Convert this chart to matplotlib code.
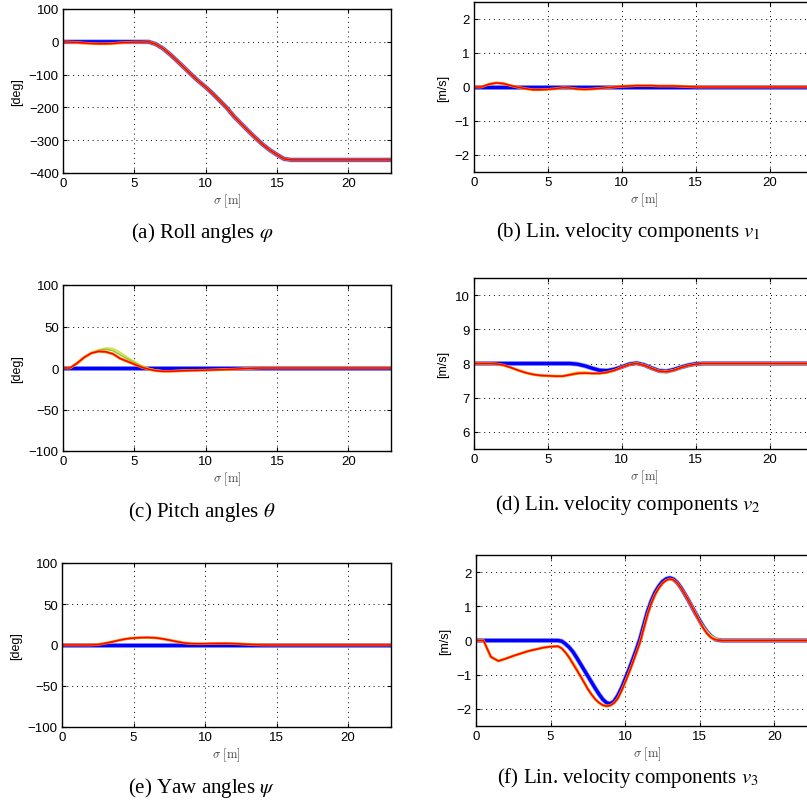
import numpy as np
import matplotlib
matplotlib.use("Agg")
import matplotlib.pyplot as plt

plt.rcParams['font.family'] = ['Liberation Sans', 'DejaVu Sans']

# sample positions along the path [m]
sigma = [0, 0.5, 1, 1.5, 2, 2.5, 3, 3.5, 4, 4.5, 5, 5.5, 6, 6.5, 7, 7.5, 8, 8.5,
         9, 9.5, 10, 10.5, 11, 11.5, 12, 12.5, 13, 13.5, 14, 14.5, 15, 15.5,
         16, 16.5, 17, 23]

# finer sampling for the v3 panel
sigma_f = [0, 0.5, 1, 1.5, 2, 2.5, 3, 3.5, 4, 4.5, 5,
           5.5, 5.75, 6, 6.25, 6.5, 6.75, 7, 7.25, 7.5, 7.75, 8, 8.25, 8.5, 8.75,
           9, 9.25, 9.5, 9.75, 10, 10.25, 10.5, 10.75, 11, 11.25, 11.5, 11.75,
           12, 12.25, 12.5, 12.75, 13, 13.25, 13.5, 13.75, 14, 14.25, 14.5, 14.75,
           15, 15.25, 15.5, 15.75, 16, 16.25, 16.5, 17, 23]

# (a) roll angle [deg]
roll_ref = [0, 0, 0, 0, 0, 0, 0, 0, 0, 0, 0, 0, 0, -7, -20, -38, -58, -79,
            -100, -120, -138, -158, -180, -202, -228, -250, -272, -293, -313, -330, -344, -357,
            -360, -360, -360, -360]
roll_run = [0, -1, -2, -4, -5, -6, -6, -5, -3, -2, -1, -1, 0, -7, -20, -38, -58, -79,
            -100, -120, -138, -158, -180, -202, -228, -250, -272, -293, -313, -330, -344, -357,
            -360, -360, -360, -360]

# (b) v1 [m/s]
v1_ref = [0] * 36
v1_run = [0, 0, 0.08, 0.12, 0.10, 0.04, -0.01, -0.05, -0.08, -0.08, -0.07, -0.05, -0.02, -0.03,
          -0.06, -0.07, -0.06, -0.04, -0.02, 0, 0.02, 0.03, 0.04, 0.04, 0.04, 0.03, 0.03, 0.03,
          0.02, 0.01, 0, 0, 0, 0, 0, 0]

# (c) pitch angle [deg]
pitch_ref = [0] * 36
pitch_run = [0, 0, 6, 13, 18, 20, 19.5, 17, 11.5, 8, 4.5, 1, -1.5, -3.2, -4, -4, -3.6, -3.2,
             -3, -2.8, -2.6, -2.3, -2, -1.7, -1.4, -1, -0.5, -0.2, 0, 0, 0, 0, 0, 0, 0, 0]
pitch_alt1 = [0, 0, 5, 12, 18, 22, 24, 23.5, 19, 13, 8, 3, -0.5, -2.5, -3.5, -3.5, -3.2, -3,
              -3, -2.9, -2.7, -2.4, -2.1, -1.8, -1.5, -1.1, -0.6, -0.3, 0, 0, 0, 0, 0, 0, 0, 0]
pitch_alt2 = [0, 0, 5.5, 12.5, 18, 21.5, 22.5, 21, 16, 11, 6.5, 2, -1, -2.8, -3.7, -3.8, -3.4, -3.1,
              -3, -2.8, -2.6, -2.3, -2, -1.7, -1.4, -1, -0.5, -0.2, 0, 0, 0, 0, 0, 0, 0, 0]

# (d) v2 [m/s]
v2_ref = [8.0] * 14 + [7.98, 7.93, 7.86, 7.80, 7.79, 7.83, 7.90, 7.98, 8.01, 7.96, 7.87, 7.79,
                       7.77, 7.82, 7.89, 7.95, 7.99, 8.0, 8.0, 8.0, 8.0, 8.0]
v2_run = [8.0, 8.0, 8.0, 7.99, 7.95, 7.88, 7.80, 7.73, 7.68, 7.65, 7.64, 7.63, 7.63, 7.67, 7.71,
          7.72, 7.71, 7.71, 7.74, 7.80, 7.89, 7.97, 8.0, 7.95, 7.86, 7.78, 7.76, 7.80, 7.88, 7.94,
          7.98, 8.0, 8.0, 8.0, 8.0, 8.0]
v2_alt = [8.0, 8.0, 8.0, 7.99, 7.95, 7.88, 7.80, 7.73, 7.68, 7.65, 7.64, 7.62, 7.64, 7.70, 7.75,
          7.75, 7.73, 7.72, 7.74, 7.80, 7.89, 7.97, 8.01, 7.96, 7.87, 7.79, 7.77, 7.81, 7.88, 7.94,
          7.98, 7.99, 7.99, 7.99, 7.99, 7.99]

# (e) yaw angle [deg]
yaw_ref = [0] * 36
yaw_run = [0, 0, 0, 0, 0, 0.5, 2, 3.8, 5.8, 7.5, 8.5, 9, 9.1, 8.8, 7.6, 6, 4.2, 2.6,
           1.7, 1.5, 1.6, 1.8, 1.9, 1.9, 1.7, 1.3, 0.8, 0.3, 0.1, 0, 0, 0, 0, 0, 0, 0]

# (f) v3 [m/s], on sigma_f
v3_ref = [0] * 11 + [0, -0.02, -0.1, -0.2, -0.33, -0.5, -0.68, -0.86, -1.04, -1.22, -1.4,
                     -1.57, -1.72, -1.82, -1.85, -1.78, -1.62, -1.4, -1.13, -0.86, -0.57,
                     -0.27, 0.05, 0.45, 0.84, 1.15, 1.4, 1.58, 1.72, 1.8, 1.83, 1.79, 1.69,
                     1.54, 1.36, 1.17, 0.97, 0.77, 0.58, 0.4, 0.25, 0.13, 0.05, 0.01, 0] + [0, 0]
v3_run = [0, 0, -0.48, -0.6, -0.53, -0.45, -0.38, -0.31, -0.26, -0.21, -0.18,
          -0.17, -0.23, -0.35, -0.5, -0.68, -0.86, -1.04, -1.23, -1.42, -1.58, -1.72,
          -1.82, -1.89, -1.92, -1.9, -1.83, -1.7, -1.48, -1.22, -0.95, -0.66, -0.36,
          -0.05, 0.36, 0.76, 1.08, 1.34, 1.53, 1.67, 1.76, 1.8, 1.77, 1.68, 1.53, 1.36,
          1.17, 0.97, 0.76, 0.55, 0.36, 0.2, 0.09, 0.03, 0.01, 0, 0, 0]
v3_alt = [0, 0, -0.47, -0.59, -0.53, -0.45, -0.38, -0.31, -0.26, -0.21, -0.18,
          -0.17, -0.22, -0.33, -0.45, -0.62, -0.8, -0.99, -1.19, -1.4, -1.57, -1.71,
          -1.81, -1.88, -1.91, -1.9, -1.83, -1.7, -1.48, -1.22, -0.95, -0.66, -0.36,
          -0.05, 0.36, 0.76, 1.08, 1.34, 1.53, 1.67, 1.76, 1.8, 1.77, 1.68, 1.53, 1.36,
          1.17, 0.98, 0.78, 0.58, 0.42, 0.27, 0.15, 0.08, 0.03, 0.01, 0, 0]

panels = [
    # x, position (px: left, top, right, bottom), ylim, yticks, ylabel, ref, alts, run, caption, caption xy (px)
    (sigma, (63, 10, 391, 174), (-400, 100), [-400, -300, -200, -100, 0, 100], '[deg]',
     roll_ref, [], roll_run, r'(a) Roll angles $\varphi$', (202, 233)),
    (sigma, (474, 3, 814, 173), (-2.5, 2.5), [-2, -1, 0, 1, 2], '[m/s]',
     v1_ref, [], v1_run, r'(b) Lin. velocity components $v_1$', (628, 232)),
    (sigma, (63, 286, 391, 452), (-100, 100), [-100, -50, 0, 50, 100], '[deg]',
     pitch_ref, [pitch_alt1, pitch_alt2], pitch_run, r'(c) Pitch angles $\theta$', (202, 512)),
    (sigma, (474, 279, 814, 450), (5.5, 10.5), [6, 7, 8, 9, 10], '[m/s]',
     v2_ref, [v2_alt], v2_run, r'(d) Lin. velocity components $v_2$', (628, 505)),
    (sigma, (62, 564, 391, 728), (-100, 100), [-100, -50, 0, 50, 100], '[deg]',
     yaw_ref, [], yaw_run, r'(e) Yaw angles $\psi$', (202, 788)),
    (sigma_f, (476, 556, 819, 727), (-2.5, 2.5), [-2, -1, 0, 1, 2], '[m/s]',
     v3_ref, [v3_alt], v3_run, r'(f) Lin. velocity components $v_3$', (628, 778)),
]

W, H = 807, 804
fig = plt.figure(figsize=(W / 100, H / 100), dpi=100)
alt_colors = ['#d8e040', '#90c840']

for x, (l, t, r, b), ylim, yticks, ylab, ref, alts, run, cap, (cx, cy) in panels:
    ax = fig.add_axes([l / W, 1 - b / H, (r - l) / W, (b - t) / H])
    ax.plot(x, ref, color='#9090ff', lw=3.4, solid_joinstyle='round')
    ax.plot(x, ref, color='#0000ff', lw=2.4, solid_joinstyle='round')
    for k, a in enumerate(alts):
        ax.plot(x, a, color=alt_colors[k % 2], lw=1.2)
    ax.plot(x, run, color='#ff9000', lw=2.0, solid_joinstyle='round')
    ax.plot(x, run, color='#ff0000', lw=1.1, solid_joinstyle='round')
    ax.set_xlim(0, 23)
    ax.set_ylim(*ylim)
    ax.set_xticks([0, 5, 10, 15, 20])
    ax.set_yticks(yticks)
    ax.grid(True, color='black', linestyle=(0, (1, 4)), linewidth=0.7)
    ax.tick_params(direction='in', top=True, right=True, length=3, labelsize=9.5, pad=3)
    for s in ax.spines.values():
        s.set_linewidth(1.0)
    ax.set_ylabel(ylab, fontsize=9)
    ax.set_xlabel(r'$\sigma\ [\mathrm{m}]$', fontsize=9, math_fontfamily='cm',
                  color='#444444', labelpad=2)
    fig.text(cx / W, 1 - cy / H, cap, ha='center', va='center', fontsize=15,
             family='Liberation Serif', math_fontfamily='stix')

fig.savefig('out.png', dpi=100)
